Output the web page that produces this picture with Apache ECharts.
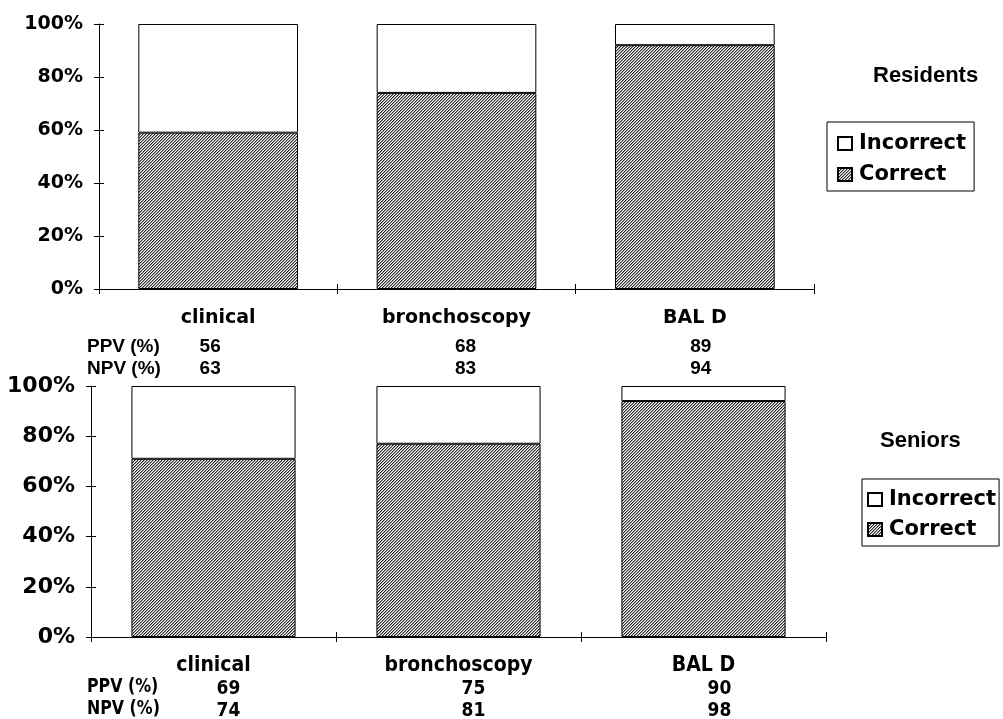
<!DOCTYPE html>
<html>
<head>
<meta charset="utf-8">
<script src="https://cdn.jsdelivr.net/npm/echarts@6/dist/echarts.min.js"></script>
<style>html,body{margin:0;padding:0;background:#fff}#c{width:1003px;height:719px}</style>
</head>
<body>
<div id="c"></div>
<script>
const categories = ['clinical', 'bronchoscopy', 'BAL D'];
const residentsCorrect = [59, 74, 92];
const residentsIncorrect = [41, 26, 8];
const residentsPPV = [56, 68, 89];
const residentsNPV = [63, 83, 94];
const seniorsCorrect = [71, 77, 94];
const seniorsIncorrect = [29, 23, 6];
const seniorsPPV = [69, 75, 90];
const seniorsNPV = [74, 81, 98];

// horizontal nudges (px) of the PPV/NPV value text relative to the category centre
const topValueShift = [-8, 9, 6];
const botValueShift = [15, 15, 16];

function makeHatch() {
  const c = document.createElement('canvas');
  c.width = 6; c.height = 6;
  const ctx = c.getContext('2d');
  const img = ctx.createImageData(6, 6);
  for (let y = 0; y < 6; y++) for (let x = 0; x < 6; x++) {
    const k = (x + y) % 3;
    const v = k === 0 ? 40 : (k === 1 ? 155 : 255);
    const i = (y * 6 + x) * 4;
    img.data[i] = v; img.data[i + 1] = v; img.data[i + 2] = v; img.data[i + 3] = 255;
  }
  ctx.putImageData(img, 0, 0);
  return c;
}
const hatch = { image: makeHatch(), repeat: 'repeat' };

const wideFont = '"DejaVu Sans", sans-serif';
const armFont = '"Liberation Sans", Arial, sans-serif';
const narrowFont = '"Liberation Sans Narrow", "DejaVu Sans Condensed", "Liberation Sans", Arial, sans-serif';

function yAxisMain(grid, labelMargin, fs) {
  return {
    type: 'value', gridIndex: grid, min: 0, max: 100, interval: 20, position: 'left',
    axisLine: { show: true, lineStyle: { color: '#000', width: 1 } },
    axisTick: { show: true, length: 5, lineStyle: { color: '#000' } },
    splitLine: { show: false },
    axisLabel: { margin: labelMargin, color: '#000', fontFamily: wideFont, fontWeight: 'bold', fontSize: fs,
      formatter: v => v + '%' }
  };
}
function yAxisOverlay(grid) {
  return {
    type: 'value', gridIndex: grid, min: 0, max: 100, interval: 20, position: 'left',
    axisLine: { show: false }, axisLabel: { show: false }, splitLine: { show: false },
    axisTick: { show: true, inside: true, length: 5, lineStyle: { color: '#000' } }
  };
}
function makeRich(catStyle, valStyle, shifts) {
  const rich = { c: catStyle };
  shifts.forEach((s, i) => {
    rich['p' + i] = Object.assign({}, valStyle, {
      padding: s >= 0 ? [0, 0, 0, 2 * s] : [0, -2 * s, 0, 0]
    });
  });
  return rich;
}
function xAxisMain(grid, ppv, npv, margin, rich) {
  return {
    type: 'category', gridIndex: grid, data: categories, position: 'bottom',
    axisLine: { show: true, lineStyle: { color: '#000', width: 1 } },
    axisTick: { show: true, length: 5, lineStyle: { color: '#000' } },
    axisLabel: {
      margin: margin, color: '#000', interval: 0,
      formatter: (v, i) => '{c|' + v + '}\n{p' + i + '|' + ppv[i] + '}\n{p' + i + '|' + npv[i] + '}',
      rich: rich
    }
  };
}
function xAxisOverlay(grid) {
  return {
    type: 'category', gridIndex: grid, data: categories, position: 'bottom',
    axisLine: { show: false }, axisLabel: { show: false },
    axisTick: { show: true, inside: true, length: 5, lineStyle: { color: '#000' } }
  };
}

const topRich = makeRich(
  { fontFamily: wideFont, fontWeight: 'bold', fontSize: 19, lineHeight: 36, color: '#000' },
  { fontFamily: armFont, fontWeight: 'bold', fontSize: 19, lineHeight: 22, color: '#000' },
  topValueShift);
const botRich = makeRich(
  { fontFamily: narrowFont, fontWeight: 'bold', fontSize: 21, lineHeight: 24, color: '#000' },
  { fontFamily: narrowFont, fontWeight: 'bold', fontSize: 19, lineHeight: 22, color: '#000' },
  botValueShift);

const barBase = { type: 'bar', barWidth: '67%' };
const correctStyle = { color: hatch, borderColor: '#000', borderWidth: 1 };
const incorrectStyle = { color: '#fff', borderColor: '#000', borderWidth: 1 };

const legendBase = {
  orient: 'vertical', data: ['Incorrect', 'Correct'], icon: 'rect',
  itemWidth: 14, itemHeight: 13, itemGap: 10,
  borderColor: '#000', borderWidth: 1, borderRadius: 0,
  selectedMode: false,
  textStyle: { fontFamily: wideFont, fontWeight: 'bold', fontSize: 21, color: '#000', padding: [0, 0, 0, 2] }
};

const option = {
  animation: false,
  backgroundColor: '#fff',
  title: [
    { text: 'Residents', left: 873, top: 65, padding: 0,
      textStyle: { fontFamily: armFont, fontWeight: 'bold', fontSize: 22, color: '#000' } },
    { text: 'Seniors', left: 880, top: 430, padding: 0,
      textStyle: { fontFamily: armFont, fontWeight: 'bold', fontSize: 22, color: '#000' } }
  ],
  legend: [
    Object.assign({}, legendBase, { left: 827, top: 122, padding: [11, 8, 6, 10] }),
    Object.assign({}, legendBase, { left: 862, top: 479, itemGap: 9, padding: [10, 3, 6, 5] })
  ],
  grid: [
    { left: 99, right: 189, top: 24, height: 265, containLabel: false, outerBoundsMode: 'none' },
    { left: 91, right: 177, top: 386, height: 251, containLabel: false, outerBoundsMode: 'none' }
  ],
  xAxis: [
    xAxisMain(0, residentsPPV, residentsNPV, 11, topRich),
    xAxisOverlay(0),
    xAxisMain(1, seniorsPPV, seniorsNPV, 17, botRich),
    xAxisOverlay(1)
  ],
  yAxis: [
    yAxisMain(0, 16, 19), yAxisOverlay(0),
    yAxisMain(1, 16, 22), yAxisOverlay(1)
  ],
  graphic: [
    { type: 'text', left: 87, top: 337, style: { text: 'PPV (%)', font: 'bold 19px "Liberation Sans", Arial, sans-serif', fill: '#000' } },
    { type: 'text', left: 87, top: 359, style: { text: 'NPV (%)', font: 'bold 19px "Liberation Sans", Arial, sans-serif', fill: '#000' } },
    { type: 'text', x: 87, y: 677, scaleX: 0.88, style: { text: 'PPV (%)', font: 'bold 20px ' + narrowFont, fill: '#000' } },
    { type: 'text', x: 87, y: 699, scaleX: 0.88, style: { text: 'NPV (%)', font: 'bold 20px ' + narrowFont, fill: '#000' } }
  ],
  series: [
    Object.assign({}, barBase, { name: 'Correct', xAxisIndex: 0, yAxisIndex: 0, stack: 'r', data: residentsCorrect, itemStyle: correctStyle }),
    Object.assign({}, barBase, { name: 'Incorrect', xAxisIndex: 0, yAxisIndex: 0, stack: 'r', data: residentsIncorrect, itemStyle: incorrectStyle }),
    Object.assign({}, barBase, { name: 'Correct', xAxisIndex: 2, yAxisIndex: 2, stack: 's', data: seniorsCorrect, itemStyle: correctStyle }),
    Object.assign({}, barBase, { name: 'Incorrect', xAxisIndex: 2, yAxisIndex: 2, stack: 's', data: seniorsIncorrect, itemStyle: incorrectStyle })
  ]
};

const chart = echarts.init(document.getElementById('c'), null, { renderer: 'canvas' });
chart.setOption(option);
</script>
</body>
</html>
